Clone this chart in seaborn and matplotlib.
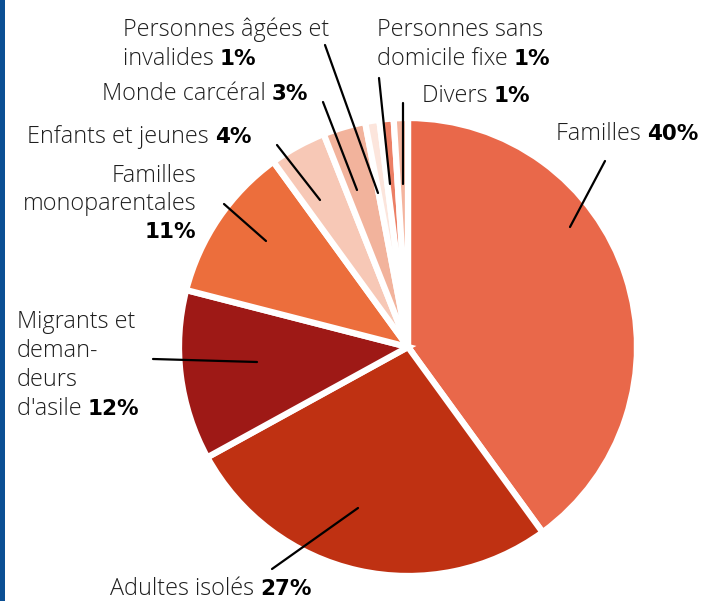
import matplotlib
matplotlib.use("Agg")
import matplotlib.pyplot as plt
from matplotlib.lines import Line2D
from matplotlib.patches import Rectangle
import seaborn as sns

# ---- data ----
categories = ["Familles", "Adultes isolés", "Migrants et demandeurs d'asile",
              "Familles monoparentales", "Enfants et jeunes", "Monde carcéral",
              "Personnes âgées et invalides", "Personnes sans domicile fixe", "Divers"]
values = [40, 27, 12, 11, 4, 3, 1, 1, 1]
pct_labels = ["40%", "27%", "12%", "11%", "4%", "3%", "1%", "1%", "1%"]
colors = ["#E9684A", "#BF3112", "#9E1916", "#EC6E3C", "#F7C8B6",
          "#F2B39C", "#FCE5DC", "#EC7F65", "#F4B49E"]

W, H = 707, 601
sns.set_theme(style="white")
plt.rcParams['font.family'] = ['Open Sans', 'DejaVu Sans']

fig = plt.figure(figsize=(W / 100, H / 100), dpi=100)
fig.patch.set_facecolor("white")

# pie axes: centre (408,347) radius ~229 px
cx, cy, r = 408, 347, 229
ax = fig.add_axes([(cx - r) / W, 1 - (cy + r) / H, 2 * r / W, 2 * r / H])
ax.pie(values, colors=sns.color_palette(colors), startangle=90, counterclock=False,
       radius=1, wedgeprops=dict(edgecolor="white", linewidth=4.5))
ax.set_xlim(-1, 1)
ax.set_ylim(-1, 1)
ax.set_aspect("equal")
ax.axis("off")

# blue bar on left edge
fig.patches.append(Rectangle((0, 0), 5 / W, 1, transform=fig.transFigure,
                             facecolor="#0B4F94", edgecolor="none"))


def fp(x, y):
    return x / W, 1 - y / H


NORM = dict(fontsize=16.8, color="#1e1e1e", fontweight="light",
            family=["Open Sans", "DejaVu Sans"])
BOLD = dict(fontsize=15.5, fontweight="bold", family=["DejaVu Sans"], color="black")
renderer = fig.canvas.get_renderer()


def label(lines, pct, x, y0, ha="left", dy=29, bold_own_line=False):
    for i, ln in enumerate(lines):
        y = y0 + i * dy
        last = (i == len(lines) - 1)
        if last and not bold_own_line:
            t = fig.text(*fp(x, y), ln + " ", ha="left", va="baseline", **NORM)
            bb = t.get_window_extent(renderer)
            fig.text(bb.x1 / W, 1 - y / H, pct, ha="left", va="baseline", **BOLD)
        else:
            fig.text(*fp(x, y), ln, ha=ha, va="baseline", **NORM)
    if bold_own_line:
        y = y0 + len(lines) * dy
        fig.text(*fp(x, y), pct, ha=ha, va="baseline", **BOLD)


label([categories[0]], pct_labels[0], 556, 140)
label([categories[1]], pct_labels[1], 110, 595)
label(["Migrants et", "deman-", "deurs", "d'asile"], pct_labels[2], 17, 328)
label(["Familles", "monoparentales"], pct_labels[3], 196, 182, ha="right", dy=28,
      bold_own_line=True)
label([categories[4]], pct_labels[4], 27, 143)
label([categories[5]], pct_labels[5], 102, 100)
label(["Personnes âgées et", "invalides"], pct_labels[6], 123, 36)
label(["Personnes sans", "domicile fixe"], pct_labels[7], 377, 36)
label([categories[8]], pct_labels[8], 422, 102)

# leader lines (layout, in pixels)
leaders = [((605, 161), (570, 227)),
           ((358, 508), (272, 569)),
           ((153, 359), (257, 362)),
           ((224, 204), (266, 241)),
           ((277, 145), (320, 200)),
           ((323, 102), (357, 190)),
           ((325, 45), (378, 193)),
           ((379, 78), (390, 184)),
           ((403, 103), (403, 184))]
for (x0, y0), (x1, y1) in leaders:
    fig.lines.append(Line2D([x0 / W, x1 / W], [1 - y0 / H, 1 - y1 / H],
                            transform=fig.transFigure, color="black", lw=1.6))

fig.savefig("out.png", dpi=100)
